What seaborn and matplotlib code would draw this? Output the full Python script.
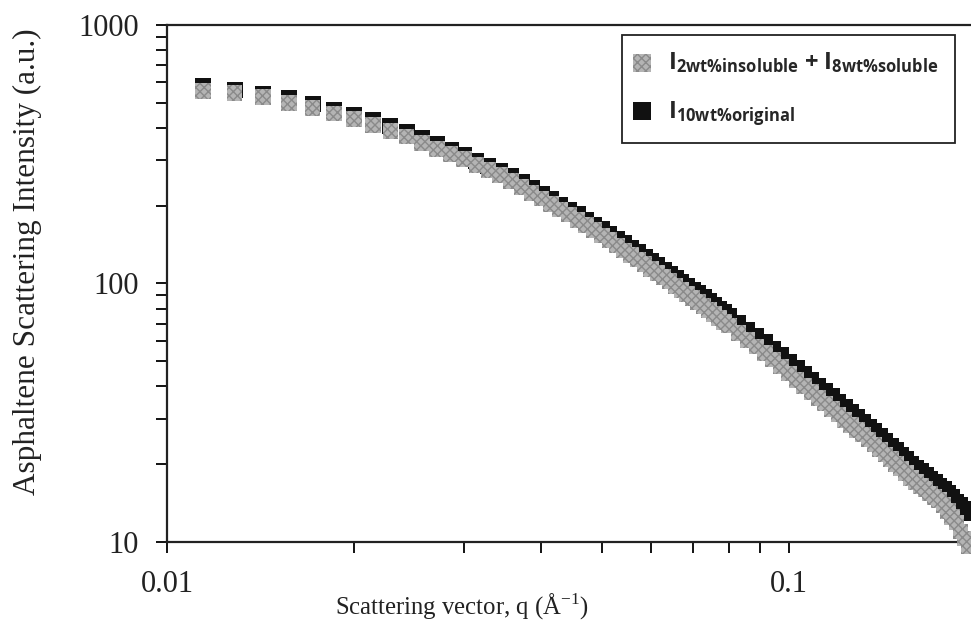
import matplotlib

matplotlib.use("Agg")

import matplotlib.pyplot as plt
import matplotlib.ticker as mticker
import seaborn as sns


# scattering vector q (1/Angstrom)
Q = [
    0.01142, 0.01285, 0.01428, 0.01571, 0.01714, 0.01857, 0.02000, 0.02143, 0.02286, 0.02429,
    0.02572, 0.02715, 0.02858, 0.03001, 0.03144, 0.03287, 0.03430, 0.03573, 0.03716, 0.03859,
    0.04002, 0.04145, 0.04288, 0.04431, 0.04574, 0.04717, 0.04860, 0.05003, 0.05146, 0.05289,
    0.05432, 0.05575, 0.05718, 0.05861, 0.06004, 0.06147, 0.06290, 0.06433, 0.06576, 0.06719,
    0.06862, 0.07005, 0.07148, 0.07291, 0.07434, 0.07577, 0.07720, 0.07863, 0.08006,
    0.08292, 0.08578, 0.08864, 0.09150, 0.09436, 0.09722, 0.10008, 0.10294, 0.10580, 0.10866,
    0.11152, 0.11438, 0.11724, 0.12010, 0.12296, 0.12582, 0.12868, 0.13154, 0.13440, 0.13726,
    0.14012, 0.14298, 0.14584, 0.14870, 0.15156, 0.15442, 0.15728, 0.16014, 0.16300, 0.16586,
    0.16872, 0.17158, 0.17444, 0.17730, 0.18016, 0.18302, 0.18588, 0.18874, 0.19160, 0.19446,
]

# I(2wt% insoluble) + I(8wt% soluble)
I_MIXED = [
    556, 546, 527, 499, 477, 455, 433, 410, 389, 370,
    350, 331, 317, 303, 287, 275, 263, 249, 236, 224,
    213, 203, 193, 185, 176, 168, 161, 153.5, 147, 140,
    134, 129, 124, 119, 114, 110, 106, 102, 98, 94.3,
    90.9, 87.7, 84.6, 81.7, 78.8, 76.1, 73.5, 71.0, 68.7,
    64.4, 60.5, 57.0, 53.8, 50.7, 47.7, 44.9, 42.4, 40.1, 38.0,
    36.1, 34.3, 32.7, 31.1, 29.7, 28.4, 27.1, 26.0, 24.9, 23.8,
    22.8, 21.8, 20.9, 20.0, 19.2, 18.5, 17.7, 17.1, 16.5, 16.0,
    15.4, 14.9, 14.5, 13.9, 13.2, 12.5, 11.9, 11.0, 10.3, 9.6,
]

# I(10wt% original)
I_ORIGINAL = [
    581, 560, 541, 522, 495, 471, 449, 429, 407, 387,
    366, 347, 329, 314, 298, 285, 272, 260, 247, 234,
    222, 212, 202, 193, 185, 176, 169, 162, 155, 149,
    143, 137, 132, 127, 122, 117.5, 113, 109, 105, 101.6,
    98.0, 94.7, 91.5, 88.5, 85.6, 82.7, 80.0, 77.4, 75.0,
    70.4, 66.3, 62.6, 59.2, 56.0, 52.8, 49.8, 47.1, 44.7, 42.4,
    40.3, 38.4, 36.6, 34.9, 33.4, 31.9, 30.5, 29.2, 27.9, 26.8,
    25.7, 24.6, 23.6, 22.6, 21.7, 20.9, 20.1, 19.4, 18.8, 18.2,
    17.6, 17.0, 16.5, 16.0, 15.4, 14.9, 14.3, 13.9, 13.4, 13.0,
]

LABEL_MIXED = r"$\mathrm{I_{2wt\%insoluble}}$ + $\mathrm{I_{8wt\%soluble}}$"
LABEL_ORIGINAL = r"$\mathrm{I_{10wt\%original}}$"


def main() -> None:
    sns.set_theme(style="ticks")
    plt.rcParams["font.family"] = ["Liberation Serif", "DejaVu Serif"]
    plt.rcParams["mathtext.fontset"] = "custom"
    plt.rcParams["mathtext.rm"] = "Open Sans:bold"
    plt.rcParams["hatch.linewidth"] = 1.0

    fig = plt.figure(figsize=(9.71, 6.28), dpi=100)
    ax = fig.add_axes([0.172, 0.137, 0.8332, 0.8232])

    sns.scatterplot(
        x=Q, y=I_ORIGINAL, ax=ax, marker="s", s=125, color="#111111",
        edgecolor="#111111", linewidth=0, clip_on=False, zorder=2,
        label=LABEL_ORIGINAL, legend=False,
    )
    sns.scatterplot(
        x=Q, y=I_MIXED, ax=ax, marker="s", s=125, color="#b4b4b4",
        edgecolor="#8a8a8a", linewidth=0, hatch="xxxx", clip_on=False, zorder=3,
        label=LABEL_MIXED, legend=False,
    )

    ax.set_xscale("log")
    ax.set_yscale("log")
    ax.set_xlim(0.01, 0.2)
    ax.set_ylim(10, 1000)

    fmt = mticker.FuncFormatter(lambda v, _: f"{v:g}")
    ax.xaxis.set_major_formatter(fmt)
    ax.yaxis.set_major_formatter(fmt)
    ax.xaxis.set_minor_formatter(mticker.NullFormatter())
    ax.yaxis.set_minor_formatter(mticker.NullFormatter())

    ax.tick_params(which="both", direction="out", length=8, width=1.3, color="black",
                   labelsize=22, pad=12, labelcolor="#222222")
    for side in ["left", "bottom", "top", "right"]:
        ax.spines[side].set_linewidth(1.6)
        ax.spines[side].set_color("#222222")

    ax.set_xlabel(r"Scattering vector, q (Å$^{\mathregular{-1}}$)", fontsize=17.8,
                  color="#222222")
    ax.xaxis.set_label_coords(0.3647, -0.095)
    ax.set_ylabel("Asphaltene Scattering Intensity (a.u.)", fontsize=22.5,
                  color="#222222")
    ax.yaxis.set_label_coords(-0.1545, 0.5416)

    handles = ax.collections
    leg = ax.legend(
        handles=[handles[1], handles[0]],
        labels=[LABEL_MIXED, LABEL_ORIGINAL],
        loc="upper left",
        bbox_to_anchor=(0.5624, 0.7776, 0.4116, 0.2031),
        mode="expand",
        prop={"family": "Open Sans", "weight": "bold", "size": 17},
        frameon=True,
        fancybox=False,
        framealpha=1,
        edgecolor="#222222",
        borderpad=0.65,
        borderaxespad=0,
        handlelength=0.4,
        handletextpad=0.9,
        labelspacing=1.0,
        markerscale=1.15,
    )
    leg.get_frame().set_linewidth(1.3)

    fig.savefig("out.png", dpi=100)
    plt.close(fig)


if __name__ == "__main__":
    main()
